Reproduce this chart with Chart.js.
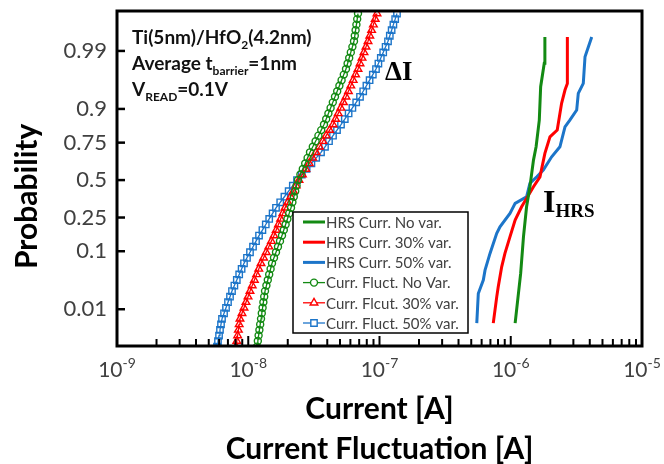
<!DOCTYPE html>
<html><head><meta charset="utf-8">
<script src="https://cdn.jsdelivr.net/npm/chart.js@4.4.1/dist/chart.umd.min.js"></script>
<style>html,body{margin:0;padding:0;background:#fff;}canvas{display:block}</style>
</head><body>
<canvas id="c" width="664" height="464"></canvas>
<script>
// ---------------- data ----------------
const seriesNames = ['HRS Curr. No var.', 'HRS Curr. 30% var.', 'HRS Curr. 50% var.',
  'Curr. Fluct. No Var.', 'Curr. Flcut. 30% var.', 'Curr. Fluct. 50% var.'];

// normal quantile (sigma) of each current-fluctuation point
const fluctSigma = [-3.0,-2.9,-2.8,-2.7,-2.6,-2.5,-2.4,-2.3,-2.2,-2.1,
  -2.0,-1.9,-1.8,-1.7,-1.6,-1.5,-1.4,-1.3,-1.2,-1.1,
  -1.0,-0.9,-0.8,-0.7,-0.6,-0.5,-0.4,-0.3,-0.2,-0.1,
  0.0,0.1,0.2,0.3,0.4,0.5,0.6,0.7,0.8,0.9,
  1.0,1.1,1.2,1.3,1.4,1.5,1.6,1.7,1.8,1.9,
  2.0,2.1,2.2,2.3,2.4,2.5,2.6,2.7,2.8,2.9,3.0];

const fluctNoVar = [1.166e-8,1.183e-8,1.199e-8,1.216e-8,1.233e-8,1.251e-8,1.268e-8,1.286e-8,1.304e-8,1.323e-8,
  1.342e-8,1.375e-8,1.409e-8,1.444e-8,1.480e-8,1.517e-8,1.571e-8,1.627e-8,1.685e-8,1.745e-8,
  1.808e-8,1.866e-8,1.926e-8,1.988e-8,2.051e-8,2.117e-8,2.170e-8,2.224e-8,2.279e-8,2.335e-8,
  2.393e-8,2.496e-8,2.604e-8,2.716e-8,2.833e-8,2.954e-8,3.103e-8,3.260e-8,3.425e-8,3.597e-8,
  3.777e-8,3.926e-8,4.081e-8,4.241e-8,4.408e-8,4.581e-8,4.761e-8,4.949e-8,5.143e-8,5.346e-8,
  5.556e-8,5.714e-8,5.877e-8,6.044e-8,6.216e-8,6.393e-8,6.484e-8,6.575e-8,6.669e-8,6.763e-8,6.858e-8];

const fluct30 = [8.07e-9,8.18e-9,8.30e-9,8.41e-9,8.53e-9,8.65e-9,8.96e-9,9.28e-9,9.61e-9,9.96e-9,
  1.031e-8,1.072e-8,1.114e-8,1.158e-8,1.203e-8,1.251e-8,1.309e-8,1.370e-8,1.434e-8,1.501e-8,
  1.571e-8,1.633e-8,1.698e-8,1.764e-8,1.834e-8,1.905e-8,2.002e-8,2.102e-8,2.208e-8,2.319e-8,
  2.436e-8,2.586e-8,2.745e-8,2.913e-8,3.094e-8,3.283e-8,3.485e-8,3.698e-8,3.926e-8,4.168e-8,
  4.424e-8,4.630e-8,4.846e-8,5.072e-8,5.308e-8,5.556e-8,5.795e-8,6.044e-8,6.304e-8,6.575e-8,
  6.858e-8,7.104e-8,7.358e-8,7.620e-8,7.892e-8,8.174e-8,8.436e-8,8.707e-8,8.987e-8,9.276e-8,9.571e-8];

const fluct50 = [5.78e-9,5.88e-9,5.99e-9,6.09e-9,6.20e-9,6.31e-9,6.54e-9,6.77e-9,7.01e-9,7.26e-9,
  7.52e-9,7.84e-9,8.18e-9,8.53e-9,8.90e-9,9.28e-9,9.78e-9,1.031e-8,1.087e-8,1.146e-8,
  1.208e-8,1.282e-8,1.360e-8,1.444e-8,1.533e-8,1.627e-8,1.752e-8,1.886e-8,2.031e-8,2.185e-8,
  2.352e-8,2.559e-8,2.784e-8,3.029e-8,3.295e-8,3.585e-8,3.844e-8,4.124e-8,4.424e-8,4.745e-8,
  5.090e-8,5.440e-8,5.816e-8,6.216e-8,6.645e-8,7.104e-8,7.514e-8,7.947e-8,8.406e-8,8.893e-8,
  9.405e-8,9.809e-8,1.023e-7,1.067e-7,1.113e-7,1.161e-7,1.198e-7,1.237e-7,1.276e-7,1.317e-7,1.359e-7];

// HRS current distributions: normal quantile (sigma) and current [A]
const hrsNoVarSigma = [-2.576,-1.681,-1.022,-0.481,-0.121,0.360,0.600,1.081,1.681,2.103,2.576];
const hrsNoVarCurrent = [1.08e-6,1.19e-6,1.25e-6,1.32e-6,1.40e-6,1.49e-6,1.56e-6,1.65e-6,1.69e-6,1.80e-6,1.82e-6];

const hrs30Sigma = [-2.576,-2.103,-1.923,-1.562,-1.321,-1.022,-0.721,-0.481,-0.121,0.059,0.481,0.780,0.901,1.382,1.622,1.742,2.576];
const hrs30Current = [7.36e-7,7.82e-7,8.03e-7,8.53e-7,9.03e-7,9.86e-7,1.08e-6,1.21e-6,1.49e-6,1.67e-6,1.82e-6,1.99e-6,2.26e-6,2.44e-6,2.59e-6,2.70e-6,2.70e-6];

const hrs50Sigma = [-2.576,-2.042,-1.802,-1.622,-1.321,-0.960,-0.841,-0.600,-0.420,-0.301,-0.059,0.059,0.180,0.420,0.600,0.960,1.081,1.261,1.562,1.742,2.222,2.576];
const hrs50Current = [5.51e-7,5.66e-7,6.18e-7,6.37e-7,6.95e-7,7.82e-7,8.28e-7,9.86e-7,1.08e-6,1.32e-6,1.40e-6,1.58e-6,1.77e-6,2.05e-6,2.37e-6,2.59e-6,2.82e-6,3.18e-6,3.27e-6,3.57e-6,3.68e-6,4.14e-6];

// axis ticks
const probTickValues = [0.01, 0.1, 0.25, 0.5, 0.75, 0.9, 0.99];
const probTickLabels = ['0.01', '0.1', '0.25', '0.5', '0.75', '0.9', '0.99'];
const probAxisMin = 0.0014, probAxisMax = 0.99884;
const xDecades = [1e-9, 1e-8, 1e-7, 1e-6, 1e-5];
const xDecadeExps = ['-9', '-8', '-7', '-6', '-5'];
const xMinorMultipliers = [2, 3, 4, 5, 6, 7, 8, 9];

// ---------------- helpers ----------------
function probit(p) {
  const a=[-3.969683028665376e+01,2.209460984245205e+02,-2.759285104469687e+02,1.383577518672690e+02,-3.066479806614716e+01,2.506628277459239e+00];
  const b=[-5.447609879822406e+01,1.615858368580409e+02,-1.556989798598866e+02,6.680131188771972e+01,-1.328068155288572e+01];
  const c=[-7.784894002430293e-03,-3.223964580411365e-01,-2.400758277161838e+00,-2.549732539343734e+00,4.374664141464968e+00,2.938163982698783e+00];
  const d=[7.784695709041462e-03,3.224671290700398e-01,2.445134137142996e+00,3.754408661907416e+00];
  const pl=0.02425, ph=1-pl; let q, r;
  if (p < pl) { q=Math.sqrt(-2*Math.log(p)); return (((((c[0]*q+c[1])*q+c[2])*q+c[3])*q+c[4])*q+c[5])/((((d[0]*q+d[1])*q+d[2])*q+d[3])*q+1); }
  if (p <= ph) { q=p-0.5; r=q*q; return (((((a[0]*r+a[1])*r+a[2])*r+a[3])*r+a[4])*r+a[5])*q/(((((b[0]*r+b[1])*r+b[2])*r+b[3])*r+b[4])*r+1); }
  q=Math.sqrt(-2*Math.log(1-p)); return -(((((c[0]*q+c[1])*q+c[2])*q+c[3])*q+c[4])*q+c[5])/((((d[0]*q+d[1])*q+d[2])*q+d[3])*q+1);
}
const pts = (xs, ys) => xs.map((v, i) => ({x: v, y: ys[i]}));

const GREEN = '#138a13', RED = '#ff0000', BLUE = '#1c75c9';
const TXT = '#404040';

const hrsDs = (label, data, color) => ({label, data, borderColor: color, backgroundColor: color,
  showLine: true, borderWidth: 3, pointRadius: 0, tension: 0});
const flDs = (label, data, color, style, r) => ({label, data, borderColor: color, backgroundColor: 'rgba(255,255,255,0)',
  showLine: true, borderWidth: 1.3, pointRadius: r, pointBorderWidth: 1.4, pointStyle: style,
  pointBorderColor: color, pointBackgroundColor: 'rgba(255,255,255,0)', tension: 0});

const datasets = [
  hrsDs(seriesNames[0], pts(hrsNoVarCurrent, hrsNoVarSigma), GREEN),
  hrsDs(seriesNames[1], pts(hrs30Current, hrs30Sigma), RED),
  hrsDs(seriesNames[2], pts(hrs50Current, hrs50Sigma), BLUE),
  flDs(seriesNames[3], pts(fluctNoVar, fluctSigma), GREEN, 'circle', 3.5),
  flDs(seriesNames[4], pts(fluct30, fluctSigma), RED, 'triangle', 4.4),
  flDs(seriesNames[5], pts(fluct50, fluctSigma), BLUE, 'rect', 4.5)
];

function drawMarker(ctx, style, x, y, r) {
  ctx.beginPath();
  if (style === 'circle') ctx.arc(x, y, r, 0, Math.PI * 2);
  else if (style === 'triangle') {
    ctx.moveTo(x, y - r);
    ctx.lineTo(x + r * Math.sin(Math.PI / 3), y + r * 0.5);
    ctx.lineTo(x - r * Math.sin(Math.PI / 3), y + r * 0.5);
    ctx.closePath();
  } else { const s = r * Math.SQRT1_2; ctx.rect(x - s, y - s, 2 * s, 2 * s); }
  ctx.fill();
  ctx.stroke();
}

function richText(ctx, parts, x, y) {
  let cx = x;
  for (const p of parts) {
    ctx.font = p.font;
    ctx.fillText(p.t, cx, y + (p.dy || 0));
    cx += ctx.measureText(p.t).width;
  }
}

const decor = {
  id: 'decor',
  afterDatasetsDraw(chart) {
    const {ctx, chartArea: a, scales: {x, y}} = chart;
    ctx.save();
    // frame
    ctx.strokeStyle = '#000'; ctx.lineWidth = 3;
    ctx.strokeRect(a.left, a.top, a.right - a.left, a.bottom - a.top);
    // x ticks (inward)
    ctx.lineWidth = 2;
    xDecades.forEach((d, i) => {
      const mult = i < xDecades.length - 1 ? [1, ...xMinorMultipliers] : [1];
      mult.forEach(m => {
        const px = x.getPixelForValue(m * d);
        const len = m === 1 ? 10 : 7;
        ctx.beginPath(); ctx.moveTo(px, a.bottom); ctx.lineTo(px, a.bottom - len); ctx.stroke();
      });
    });
    // y ticks (inward)
    ctx.lineWidth = 2.5;
    probTickValues.forEach(p => {
      const py = y.getPixelForValue(probit(p));
      ctx.beginPath(); ctx.moveTo(a.left, py); ctx.lineTo(a.left + 8, py); ctx.stroke();
    });
    // x tick labels 10^n
    ctx.fillStyle = TXT; ctx.textBaseline = 'alphabetic'; ctx.textAlign = 'left';
    xDecades.forEach((d, i) => {
      const px = x.getPixelForValue(d);
      ctx.font = '21px Lato'; const w1 = ctx.measureText('10').width;
      ctx.font = '14px Lato'; const w2 = ctx.measureText(xDecadeExps[i]).width;
      const sx = px - (w1 + w2) / 2;
      ctx.font = '21px Lato'; ctx.fillText('10', sx, a.bottom + 31);
      ctx.font = '14px Lato'; ctx.fillText(xDecadeExps[i], sx + w1, a.bottom + 22);
    });
    // legend
    const bx = a.left + 176, by = a.top + 201, bw = 175, bh = 121;
    ctx.fillStyle = '#fff'; ctx.fillRect(bx, by, bw, bh);
    ctx.strokeStyle = '#000'; ctx.lineWidth = 1.5; ctx.strokeRect(bx, by, bw, bh);
    ctx.textBaseline = 'middle'; ctx.font = '15px Lato';
    chart.data.datasets.forEach((ds, i) => {
      const ry = by + 10 + i * 20.2;
      ctx.strokeStyle = ds.borderColor; ctx.lineWidth = ds.borderWidth;
      ctx.beginPath(); ctx.moveTo(bx + 10, ry); ctx.lineTo(bx + 32, ry); ctx.stroke();
      if (ds.pointRadius > 0) {
        ctx.fillStyle = '#fff';
        ctx.lineWidth = ds.pointBorderWidth;
        drawMarker(ctx, ds.pointStyle, bx + 21, ry, ds.pointRadius);
      }
      ctx.fillStyle = TXT;
      ctx.fillText(ds.label, bx + 33, ry + 1);
    });
    // annotations
    ctx.textBaseline = 'alphabetic'; ctx.fillStyle = '#111';
    const BB = 'bold 19px Lato', S = 'bold 12px Lato';
    richText(ctx, [{t: 'Ti(5nm)/HfO', font: BB}, {t: '2', font: S, dy: 5}, {t: '(4.2nm)', font: BB}], a.left + 15, a.top + 33);
    richText(ctx, [{t: 'Average t', font: BB}, {t: 'barrier', font: S, dy: 5}, {t: '=1nm', font: BB}], a.left + 15, a.top + 59);
    richText(ctx, [{t: 'V', font: BB}, {t: 'READ', font: S, dy: 5}, {t: '=0.1V', font: BB}], a.left + 15, a.top + 85);
    ctx.fillStyle = '#000';
    richText(ctx, [{t: '\u0394I', font: 'bold 27px "Liberation Serif"'}], a.left + 268, a.top + 69);
    richText(ctx, [{t: 'I', font: 'bold 32px "Liberation Serif"'}, {t: 'HRS', font: 'bold 19px "Liberation Serif"', dy: 5}], a.left + 426, a.top + 201);
    ctx.restore();
  }
};

new Chart(document.getElementById('c'), {
  type: 'scatter',
  data: {datasets},
  options: {
    responsive: false, animation: false, devicePixelRatio: 1,
    layout: {padding: {left: 0, top: 11, right: 22, bottom: 0}},
    plugins: {legend: {display: false}, tooltip: {enabled: false}},
    scales: {
      x: {
        type: 'logarithmic', position: 'bottom', min: xDecades[0], max: xDecades[xDecades.length - 1],
        ticks: {display: false}, grid: {display: false, drawTicks: false}, border: {display: false},
        title: {display: true, text: ['Current [A]', 'Current Fluctuation [A]'], color: '#000',
          font: {family: 'Lato', size: 30, weight: 'bold', lineHeight: 1.3333}, padding: {top: 0, bottom: -5}},
        afterFit(s) { s.height = 118; s.paddingLeft = 0; s.paddingRight = 0; }
      },
      y: {
        type: 'linear', position: 'left', min: probit(probAxisMin), max: probit(probAxisMax),
        afterBuildTicks(s) { s.ticks = probTickValues.map(p => ({value: probit(p)})); },
        ticks: {callback: (v, i) => probTickLabels[i], font: {family: 'Lato', size: 22}, color: TXT, padding: 10, autoSkip: false},
        grid: {display: false, drawTicks: false}, border: {display: false},
        title: {display: true, text: 'Probability' + '\u00A0'.repeat(5), color: '#000',
          font: {family: 'Lato', size: 30, weight: 'bold'}, padding: {top: 9, bottom: 0}},
        afterFit(s) { s.width = 117; s.paddingTop = 0; s.paddingBottom = 0; }
      }
    }
  },
  plugins: [decor]
});
</script>
</body></html>
